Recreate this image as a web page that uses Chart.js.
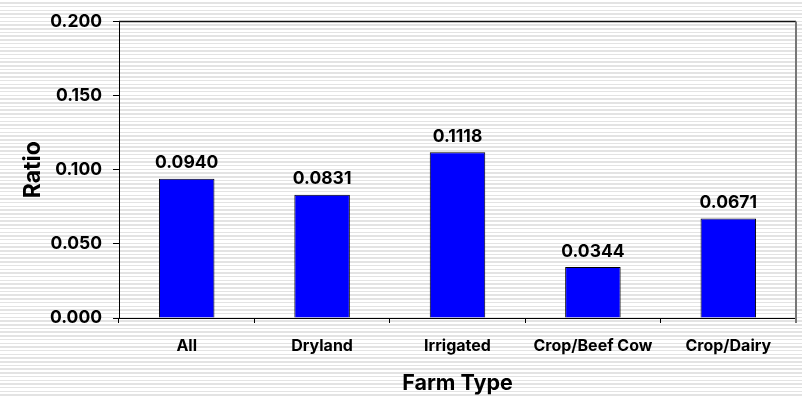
<!DOCTYPE html>
<html>
<head>
<meta charset="utf-8">
<script src="https://cdn.jsdelivr.net/npm/chart.js@4"></script>
<style>
  html, body {
    margin: 0;
    padding: 0;
    width: 802px;
    height: 396px;
    overflow: hidden;
    background: repeating-linear-gradient(to bottom, #ffffff 0px, #ffffff 2.2px, #e3e3e3 2.2px, #e3e3e3 3.7px);
  }
  #wrap { position: relative; width: 802px; height: 396px; }
</style>
</head>
<body>
<div id="wrap"><canvas id="chart" width="802" height="396"></canvas></div>
<script>
// Farm types and their ratios
const categories = ['All', 'Dryland', 'Irrigated', 'Crop/Beef Cow', 'Crop/Dairy'];
const ratios = [0.0940, 0.0831, 0.1118, 0.0344, 0.0671];
const yTickValues = [0, 0.05, 0.1, 0.15, 0.2];

const FONT = 'Inter, "DejaVu Sans", sans-serif';

// Writes each bar's value above it
const valueLabels = {
  id: 'valueLabels',
  afterDatasetsDraw(chart) {
    const ctx = chart.ctx;
    const meta = chart.getDatasetMeta(0);
    ctx.save();
    ctx.font = 'bold 17.5px ' + FONT;
    ctx.fillStyle = '#000';
    ctx.textAlign = 'center';
    ctx.textBaseline = 'alphabetic';
    meta.data.forEach((bar, i) => {
      ctx.fillText(ratios[i].toFixed(4), bar.x, bar.y - 10.5);
    });
    ctx.restore();
  }
};

// Top and right edges of the plot area
const plotFrame = {
  id: 'plotFrame',
  afterDraw(chart) {
    const { ctx, chartArea: a } = chart;
    ctx.save();
    ctx.strokeStyle = '#111';
    ctx.lineWidth = 1.5;
    ctx.beginPath();
    ctx.moveTo(a.left, a.top);
    ctx.lineTo(a.right, a.top);
    ctx.stroke();
    ctx.strokeStyle = '#777';
    ctx.lineWidth = 2;
    ctx.beginPath();
    ctx.moveTo(a.right, a.top);
    ctx.lineTo(a.right, a.bottom + 5);
    ctx.stroke();
    ctx.restore();
  }
};

new Chart(document.getElementById('chart'), {
  type: 'bar',
  data: {
    labels: categories,
    datasets: [{
      data: ratios,
      backgroundColor: '#0000ff',
      borderColor: '#000000',
      borderWidth: 1,
      barPercentage: 0.41,
      categoryPercentage: 1.0
    }]
  },
  options: {
    responsive: false,
    animation: false,
    layout: { padding: { top: 17, right: 6, left: 0, bottom: 0 } },
    plugins: {
      legend: { display: false },
      tooltip: { enabled: false }
    },
    scales: {
      x: {
        afterFit(scale) { scale.height = 78; },
        grid: {
          display: true,
          offset: true,
          drawOnChartArea: false,
          drawTicks: true,
          tickLength: 5,
          tickColor: '#000'
        },
        border: { display: true, color: '#000', width: 1 },
        ticks: {
          color: '#000',
          padding: 14,
          maxRotation: 0,
          font: { family: FONT, size: 16, weight: 'bold' }
        },
        title: {
          display: true,
          text: 'Farm Type',
          color: '#000',
          padding: { top: 0, bottom: 0 },
          font: { family: FONT, size: 21.5, weight: 'bold' }
        }
      },
      y: {
        min: 0,
        max: 0.2,
        afterFit(scale) { scale.width = 119; },
        afterBuildTicks(scale) {
          scale.ticks = yTickValues.map(v => ({ value: v }));
        },
        grid: {
          display: true,
          drawOnChartArea: false,
          drawTicks: true,
          tickLength: 6,
          tickColor: '#000'
        },
        border: { display: true, color: '#000', width: 1 },
        ticks: {
          color: '#000',
          padding: 11,
          font: { family: FONT, size: 17.5, weight: 'bold' },
          callback: v => Number(v).toFixed(3)
        },
        title: {
          display: true,
          text: 'Ratio',
          color: '#000',
          padding: { top: 19, bottom: 0 },
          font: { family: FONT, size: 23, weight: 'bold' }
        }
      }
    }
  },
  plugins: [valueLabels, plotFrame]
});
</script>
</body>
</html>
